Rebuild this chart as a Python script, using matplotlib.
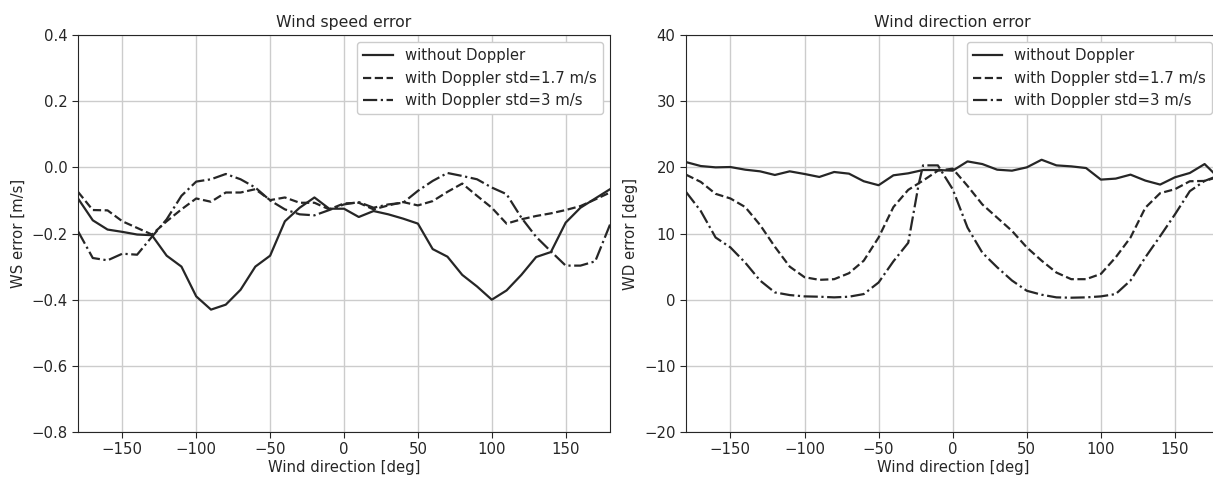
import matplotlib
matplotlib.use("Agg")
import matplotlib.pyplot as plt

# wind direction grid [deg]
wdir = [-180, -170, -160, -150, -140, -130, -120, -110, -100, -90, -80, -70, -60,
        -50, -40, -30, -20, -10, 0, 10, 20, 30, 40, 50, 60, 70, 80, 90, 100, 110,
        120, 130, 140, 150, 160, 170, 180]

# wind speed error [m/s]
ws_no_doppler = [-0.094, -0.160, -0.188, -0.195, -0.203, -0.205, -0.267, -0.300, -0.390,
                 -0.430, -0.415, -0.370, -0.300, -0.267, -0.163, -0.122, -0.091, -0.125,
                 -0.125, -0.150, -0.132, -0.142, -0.155, -0.170, -0.247, -0.270, -0.325,
                 -0.360, -0.400, -0.372, -0.325, -0.271, -0.256, -0.167, -0.122, -0.094,
                 -0.066]
ws_doppler_17 = [-0.074, -0.129, -0.130, -0.163, -0.183, -0.203, -0.163, -0.127, -0.094,
                 -0.104, -0.076, -0.076, -0.066, -0.099, -0.091, -0.107, -0.107, -0.127,
                 -0.109, -0.107, -0.127, -0.115, -0.105, -0.115, -0.102, -0.074, -0.049,
                 -0.086, -0.122, -0.170, -0.157, -0.147, -0.139, -0.129, -0.117, -0.097,
                 -0.076]
ws_doppler_3 = [-0.193, -0.274, -0.281, -0.261, -0.264, -0.210, -0.157, -0.086, -0.043,
                -0.036, -0.020, -0.036, -0.061, -0.100, -0.127, -0.142, -0.145, -0.129,
                -0.112, -0.105, -0.122, -0.112, -0.107, -0.071, -0.041, -0.017, -0.026,
                -0.036, -0.061, -0.081, -0.152, -0.210, -0.254, -0.297, -0.297, -0.284,
                -0.173]

# wind direction error [deg]
wd_no_doppler = [20.8, 20.2, 20.0, 20.05, 19.65, 19.4, 18.85, 19.4, 19.0, 18.55, 19.3,
                 19.05, 17.9, 17.3, 18.8, 19.1, 19.6, 19.6, 19.5, 20.9, 20.5, 19.65, 19.5,
                 20.0, 21.15, 20.3, 20.15, 19.9, 18.15, 18.3, 18.9, 18.0, 17.4, 18.5,
                 19.15, 20.5, 18.3]
wd_doppler_17 = [18.9, 17.8, 16.0, 15.3, 14.0, 11.3, 8.0, 5.0, 3.4, 3.0, 3.1, 4.0, 5.9,
                 9.4, 14.0, 16.6, 18.0, 19.5, 19.8, 17.2, 14.4, 12.4, 10.4, 7.9, 5.9, 4.1,
                 3.1, 3.1, 3.9, 6.4, 9.4, 13.9, 16.1, 16.7, 17.9, 17.95, 18.6]
wdir_d3 = [-180, -170, -160, -150, -140, -130, -120, -110, -100, -90, -80, -70, -60,
           -50, -40, -30, -23, -20, -10, 0, 10, 20, 30, 40, 50, 60, 70, 80, 90, 100,
           110, 120, 130, 140, 150, 160, 170, 180]
wd_doppler_3 = [16.3, 13.4, 9.4, 7.9, 5.6, 2.9, 1.1, 0.7, 0.5, 0.45, 0.35, 0.45, 0.85,
                2.6, 5.8, 8.6, 17.4, 20.3, 20.3, 16.7, 10.9, 7.1, 4.9, 2.9, 1.35, 0.75,
                0.35, 0.3, 0.35, 0.5, 0.85, 2.9, 6.4, 9.6, 12.9, 16.4, 17.95, 18.8]

labels = ["without Doppler", "with Doppler std=1.7 m/s", "with Doppler std=3 m/s"]
dark = "#262626"

plt.rcParams.update({
    "font.family": "DejaVu Sans",
    "font.size": 10.7,
    "text.color": dark,
    "axes.labelcolor": dark,
    "axes.edgecolor": dark,
    "xtick.color": dark,
    "ytick.color": dark,
    "xtick.direction": "out",
    "ytick.direction": "out",
    "xtick.major.size": 4,
    "ytick.major.size": 4,
})

fig = plt.figure(figsize=(12.13, 4.78), dpi=100)
ax1 = fig.add_axes([0.0643, 0.0962, 0.4386, 0.8305])
ax2 = fig.add_axes([0.5655, 0.0962, 0.4398, 0.8305])


def style_axes(ax):
    ax.grid(True, color="#cccccc", linewidth=1)
    ax.set_axisbelow(True)
    ax.set_xlim(-180, 180)
    ax.set_xticks([-150, -100, -50, 0, 50, 100, 150])
    ax.set_xlabel("Wind direction [deg]", labelpad=1.5)
    ax.legend(loc="upper right", fontsize=10.7, frameon=True,
              edgecolor="#cccccc", framealpha=1)


# Wind speed panel
ax1.plot(wdir, ws_no_doppler, "-", color=dark, lw=1.6, label=labels[0])
ax1.plot(wdir, ws_doppler_17, "--", color=dark, lw=1.6, label=labels[1])
ax1.plot(wdir, ws_doppler_3, "-.", color=dark, lw=1.6, label=labels[2])
ax1.set_ylim(-0.8, 0.4)
ax1.set_yticks([-0.8, -0.6, -0.4, -0.2, 0.0, 0.2, 0.4])
ax1.set_ylabel("WS error [m/s]")
ax1.set_title("Wind speed error", fontsize=11.3)
style_axes(ax1)

# Wind direction panel
ax2.plot(wdir, wd_no_doppler, "-", color=dark, lw=1.6, label=labels[0])
ax2.plot(wdir, wd_doppler_17, "--", color=dark, lw=1.6, label=labels[1])
ax2.plot(wdir_d3, wd_doppler_3, "-.", color=dark, lw=1.6, label=labels[2])
ax2.set_ylim(-20, 40)
ax2.set_yticks([-20, -10, 0, 10, 20, 30, 40])
ax2.set_ylabel("WD error [deg]")
ax2.set_title("Wind direction error", fontsize=11.3)
style_axes(ax2)

fig.savefig("out.png", dpi=100)
plt.close(fig)
